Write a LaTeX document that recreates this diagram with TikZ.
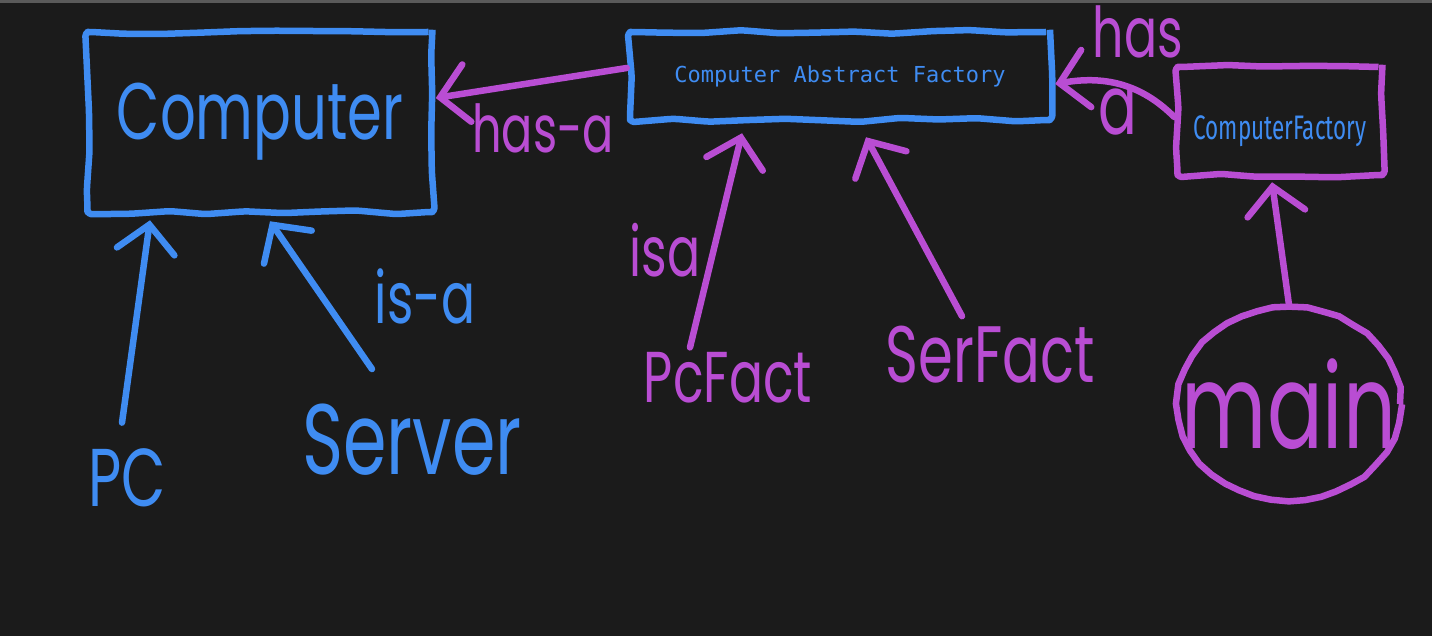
\documentclass[tikz,border=0pt]{standalone}
\usepackage{fontspec}
\newfontfamily\handfont[FakeStretch=0.7]{Poppins}
\newfontfamily\codefont{DejaVu Sans Mono}
\newfontfamily\condfont[FakeStretch=0.66]{Fira Sans}
\usetikzlibrary{arrows.meta,shapes.geometric,decorations.pathmorphing}

\definecolor{boardbg}{HTML}{1B1B1B}
\definecolor{boardedge}{HTML}{5A5A5A}
\definecolor{penblue}{HTML}{3F8CF2}
\definecolor{penpurple}{HTML}{B94DD3}

\tikzset{
  sketch/.style={line width=6.5pt, line join=round, decorate,
    decoration={random steps, segment length=38pt, amplitude=2.5pt}, rounded corners=4pt},
  roundsketch/.style={line width=6.5pt, line join=round, decorate,
    decoration={random steps, segment length=16pt, amplitude=0.8pt}},
  pen/.style={line width=6.5pt, line cap=round, line join=round,
    -{Straight Barb[length=27pt, width=58pt, line cap=round]}},
  hand/.style={inner sep=0pt, font=\handfont\fontsize{#1}{#1}\selectfont},
}

\begin{document}
\pgfmathsetseed{11}
\begin{tikzpicture}[x=1pt, y=-1pt]
  % Tafel
  \fill[boardbg] (0,0) rectangle (1432,636);
  \fill[boardedge] (0,0) rectangle (1432,3);
  \useasboundingbox (0,0) rectangle (1432,636);

  % Kaesten
  \node[draw=penblue, sketch, minimum width=345pt, minimum height=180pt,
        text=penblue, font=\handfont\fontsize{80}{80}\selectfont] (computer) at (260,122) {Computer};
  \node[draw=penblue, sketch, minimum width=420pt, minimum height=88pt,
        text=penblue, font=\codefont\fontsize{22}{22}\selectfont] (caf) at (840,76) {Computer Abstract Factory};
  \node[draw=penpurple, sketch, minimum width=205pt, minimum height=108pt, text height=44pt, text depth=7pt,
        text=penblue, font=\condfont\fontsize{34}{34}\selectfont] (cfactory) at (1280,121) {ComputerFactory};
  \node[ellipse, draw=penpurple, roundsketch, inner xsep=-50pt, inner ysep=-20pt,
        minimum width=222pt, minimum height=192pt,
        text=penpurple, font=\handfont\fontsize{118}{118}\selectfont] (main) at (1289,404) {main};

  % Klassen
  \node[hand=82, text=penblue] (pc) at (127,478) {PC};
  \node[hand=100, text=penblue] (server) at (412,440) {Server};
  \node[hand=72, text=penpurple] (pcfact) at (728,378) {PcFact};
  \node[hand=80, text=penpurple] (serfact) at (990,355) {SerFact};

  % Beschriftungen
  \node[hand=72, text=penblue] (isa) at (425,296) {is-a};
  \node[hand=66, text=penpurple] (hasa) at (543,128) {has-a};
  \node[hand=70, text=penpurple] (isb) at (665,250) {isa};
  \node[hand=70, text=penpurple] (has) at (1138,32) {has};
  \node[hand=82, text=penpurple] (a) at (1118,112) {a};

  % Pfeile
  \draw[pen, penpurple] ([yshift=8pt]caf.west) -- ([yshift=24pt]computer.east);
  \draw[pen, penblue] ([xshift=-5pt,yshift=26pt]pc.north) -- ([xshift=-110pt,yshift=-5pt]computer.south);
  \draw[pen, penblue] ([xshift=-40pt,yshift=35pt]server.north) -- ([xshift=10pt,yshift=-6pt]computer.south);
  \draw[pen, penpurple] ([xshift=-38pt,yshift=5pt]pcfact.north) -- ([xshift=-98pt,yshift=-10pt]caf.south);
  \draw[pen, penpurple] ([xshift=-28pt,yshift=10pt]serfact.north) -- ([xshift=26pt,yshift=-14pt]caf.south);
  \draw[pen, penpurple] ([yshift=4pt]cfactory.west) to[out=135, in=10] ([xshift=2pt,yshift=-8pt]caf.east);
  \draw[pen, penpurple] (main.north) -- ([xshift=-8pt,yshift=-4pt]cfactory.south);
\end{tikzpicture}
\end{document}
